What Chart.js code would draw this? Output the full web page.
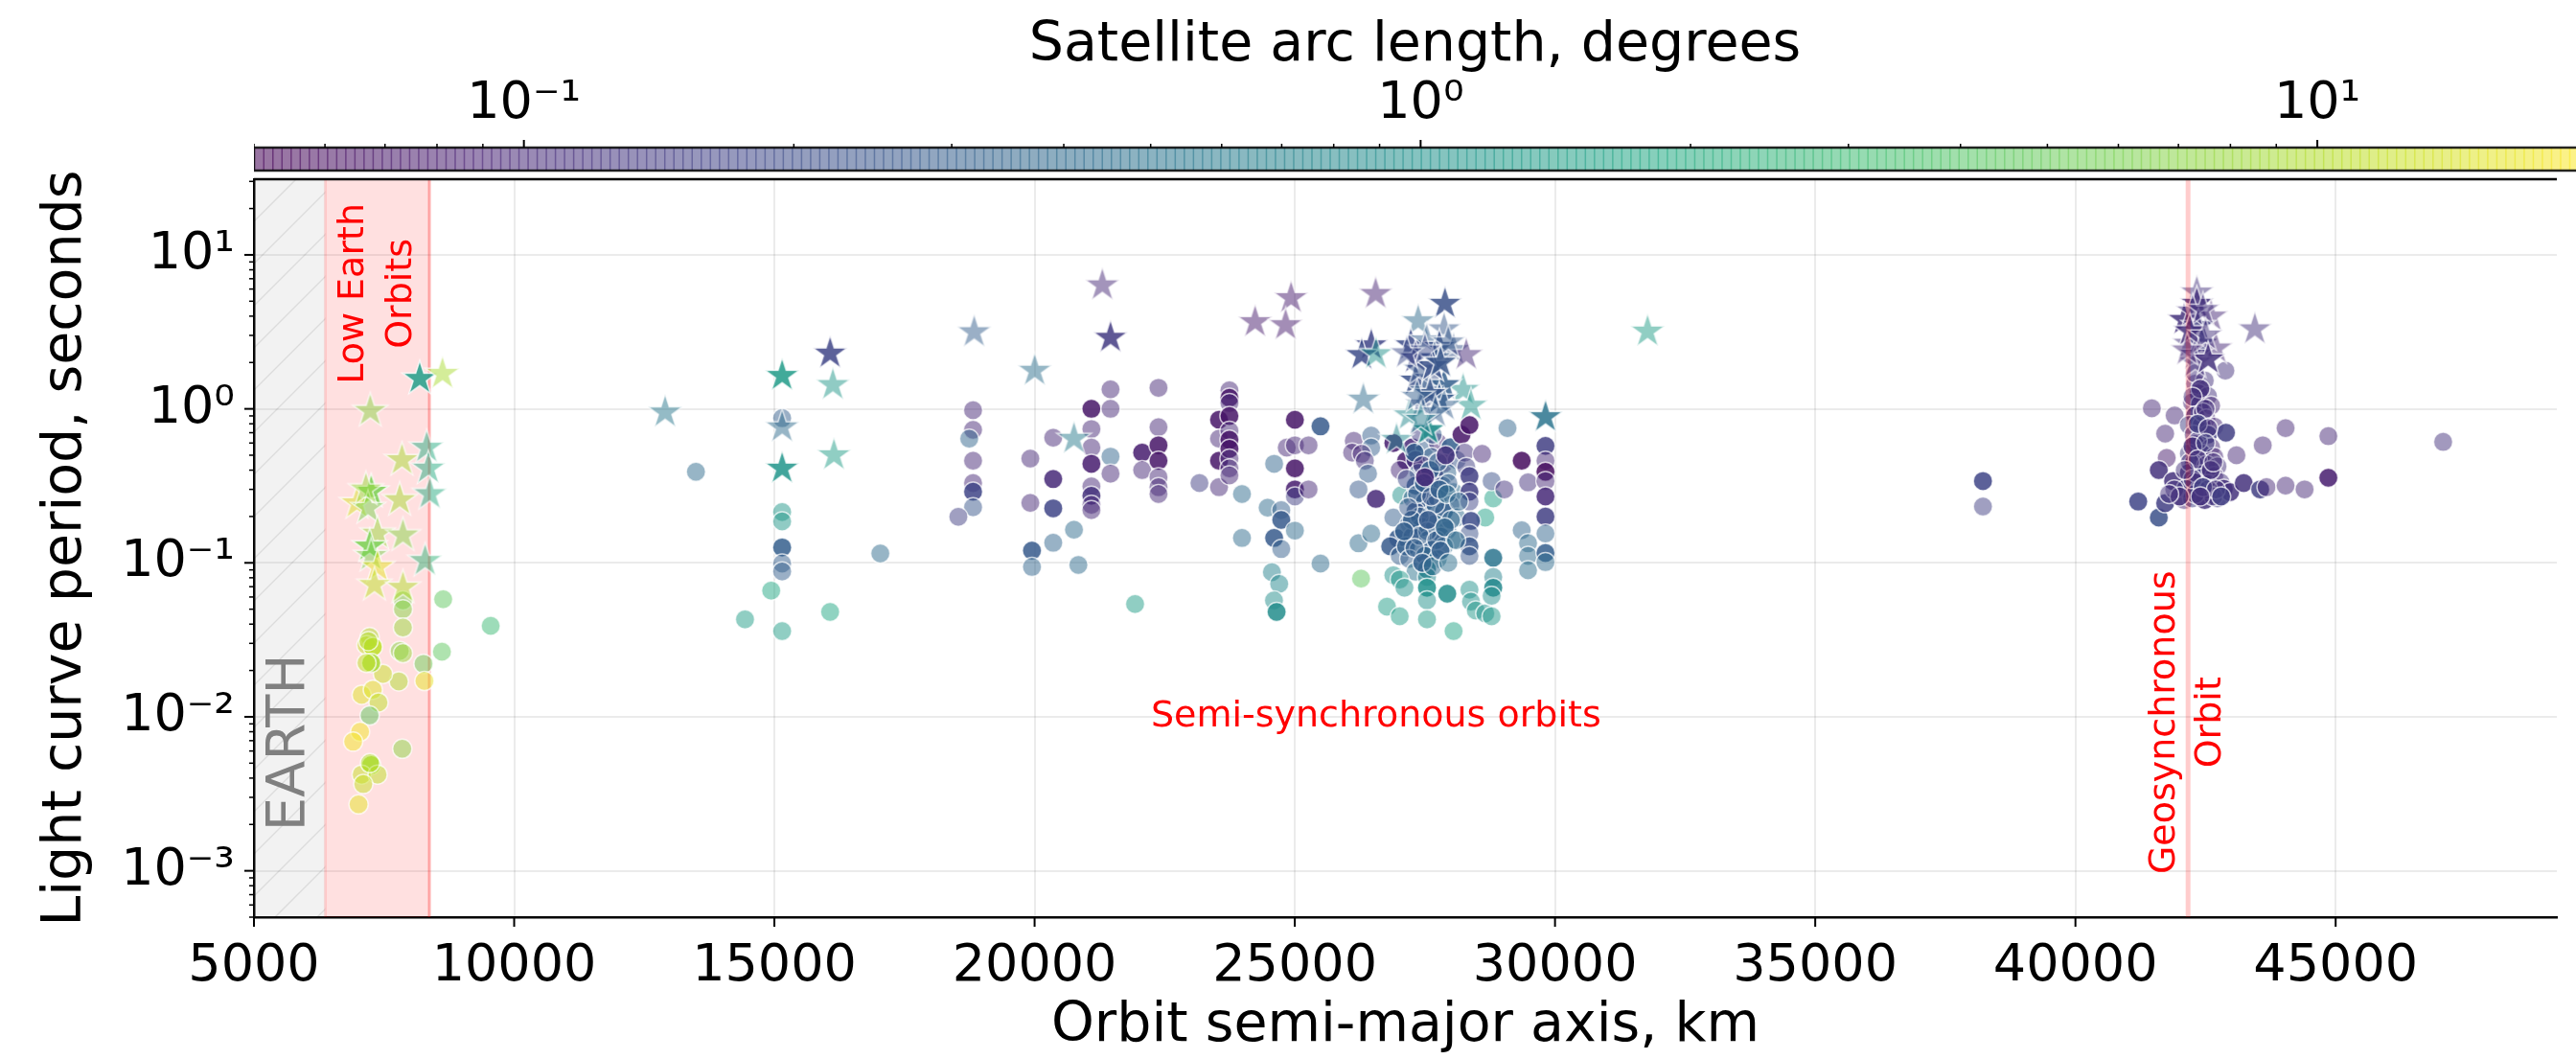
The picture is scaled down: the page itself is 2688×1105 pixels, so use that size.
<!DOCTYPE html>
<html><head><meta charset="utf-8">
<script src="https://cdn.jsdelivr.net/npm/chart.js@4.4.1/dist/chart.umd.min.js"></script>
<style>
html,body{margin:0;padding:0;background:#fff;}
#wrap{position:relative;width:2688px;height:1105px;overflow:hidden;background:#fff;}
#wrap canvas{position:absolute;left:0;top:0;}
</style></head><body>
<div id="wrap"><canvas id="cbar" width="2688" height="1105"></canvas><canvas id="main" width="2688" height="1105"></canvas></div>
<script>
// ---------- tick values / labels ----------
const axisTickValues = [5000,10000,15000,20000,25000,30000,35000,40000,45000];
const axisTickLabels = ['5000','10000','15000','20000','25000','30000','35000','40000','45000'];
const periodTickValues = [0.001,0.01,0.1,1,10];
const periodTickLabels = ['10⁻³','10⁻²','10⁻¹','10⁰','10¹'];
const arcTickValues = [0.1,1,10];
const arcTickLabels = ['10⁻¹','10⁰','10¹'];

// ---------- reference orbits (km) ----------
const earthRadiusKm = 6371, leoLimitKm = 8371, geoRadiusKm = 42164, semiSyncKm = 26560;

// ---------- circles: semi-major axis (km), period (s), arc length (deg), strong detection ----------
const leoKm = [8636,9549,8612,7863,7863,7863,7801,7863,8258,8276,7783,7479,7223,7162,7284,7253,7162,7070,7284,7393,7223,7040,6906,7850,7253,7070,7375,7101,7010,7200,7230];
const leoPeriod = [0.058,0.039,0.0265,0.057,0.050,0.038,0.0268,0.0259,0.0221,0.0171,0.017,0.019,0.0329,0.0292,0.0285,0.0224,0.0224,0.0139,0.015,0.0124,0.0102,0.0080,0.0069,0.0062,0.00487,0.00422,0.00422,0.00366,0.0027,0.031,0.005];
const leoArc = [4.5,2.9,4.5,6,6.8,8,6.8,8,5.3,16,9.7,12,9.7,12,11,9,11,15,15,11,4.5,18,18,7,9,12,11,12,16,10,10];
const leoStrong = [0,0,0,0,0,0,0,0,0,0,0,0,0,0,1,1,0,0,0,0,0,0,0,0,1,0,0,0,0,0,0];

const midKm = [13493,15149,15149,15149,15149,15149,15149,14939,14436,15149,
16071,17036,18818,18818,18744,18818,18818,18818,18818,18535,
19918,19918,19950,19950,20358,20358,20358,20358,20757,20841,
21092,21092,21092,21092,21092,21092,21092,21092,21459,21459,
21459,21459,21931,22067,22067,22381,22381,22381,22381,22381,
22381,22381,23168,23544,23544,23544,23544,23744,23744,23744,
23744,23744,23744,23744,23744,23744,23744,23985,23985,24478,
24603,24603,24740,24740,24740,24560,24700,24600,24650,24845,
25002,25002,25002,25002,25002,25264,25264,25002,25494,25494];
const midPeriod = [0.39,0.87,0.214,0.186,0.126,0.099,0.088,0.066,0.043,0.036,
0.048,0.115,0.98,0.73,0.64,0.46,0.33,0.29,0.23,0.199,
0.475,0.245,0.12,0.094,0.65,0.35,0.226,0.135,0.164,0.097,
1.0,0.74,0.56,0.44,0.314,0.273,0.238,0.22,1.34,1.0,
0.49,0.38,0.054,0.52,0.40,1.37,0.76,0.58,0.46,0.36,
0.31,0.28,0.33,0.85,0.64,0.46,0.31,1.32,1.18,1.09,
0.90,0.72,0.63,0.55,0.475,0.41,0.37,0.28,0.145,0.228,
0.44,0.145,0.22,0.19,0.123,0.087,0.073,0.057,0.048,0.56,
0.85,0.58,0.41,0.30,0.27,0.58,0.30,0.162,0.77,0.099];
const midArc = [0.4,0.3,1.2,1.2,0.3,0.3,0.3,1.8,1.4,1.4,
1.8,0.4,0.1,0.1,0.35,0.1,0.1,0.17,0.25,0.15,
0.1,0.1,0.27,0.35,0.1,0.1,0.17,0.35,0.4,0.4,
0.07,0.1,0.1,0.08,0.1,0.12,0.1,0.1,0.1,0.1,
0.35,0.1,1.4,0.08,0.1,0.1,0.1,0.07,0.07,0.1,
0.1,0.1,0.15,0.07,0.1,0.07,0.1,0.1,0.07,0.1,
0.07,0.1,0.07,0.07,0.1,0.1,0.1,0.4,0.4,0.4,
0.35,0.27,0.3,0.27,0.3,0.7,0.8,0.9,0.9,0.1,
0.07,0.1,0.07,0.08,0.15,0.1,0.1,0.4,0.27,0.4];
const midStrong = [0,0,0,0,1,0,0,0,0,0,
0,0,0,0,0,0,0,1,0,0,
0,0,1,0,0,1,1,0,0,0,
1,0,0,1,0,1,0,0,0,0,
0,0,0,1,0,0,0,1,1,0,
0,0,0,1,0,1,0,0,1,0,
1,0,1,1,0,0,0,0,0,0,
0,1,0,1,0,0,0,0,1,0,
1,0,1,1,0,0,0,0,1,0];

const semiKm = [26133,26102,26468,26468,26285,26346,26407,26224,26559,26224,26468,26273,26894,27138,27016,27046,26894,26985,26833,27016,
27259,27503,27747,27990,27320,27625,27868,28112,27381,27686,27929,27320,27564,27838,28051,27259,27503,27747,27990,27320,27625,27868,28112,27199,27442,27686,27929,27259,27564,27808,28051,27138,27381,27625,27868,27199,27503,27747,27320,
27400,27650,27150,27950,27700,27400,28000,27550,
27540,27540,27540,27540,27540,
26894,27016,27107,26772,27016,27929,28051,28356,28386,28478,28660,28782,28813,28813,28813,28782,28813,28660,
28204,28356,28265,28295,28356,28356,28356,28386,28356,28356,28356,28599,28782,29026,29087,29360,29482,29360,29482,29482,29482,
29817,29817,29817,29817,29817,29817,29817,29817,29817,
27300,27450,27600,27750,27900,27350,27480,27620,27780,27920,27250,27400,27560,27720,27880,27300,27450,27650,27800,27950,27180,27100,28150,28100,27500];
const semiPeriod = [0.62,0.52,0.67,0.56,0.51,0.46,0.38,0.30,0.26,0.134,0.155,0.079,0.60,0.46,0.40,0.275,0.197,0.144,0.128,0.111,
0.562,0.562,0.604,0.562,0.465,0.488,0.443,0.465,0.384,0.366,0.384,0.317,0.303,0.317,0.288,0.262,0.250,0.262,0.238,0.216,0.206,0.216,0.197,0.179,0.171,0.179,0.163,0.148,0.141,0.148,0.141,0.128,0.122,0.122,0.128,0.106,0.111,0.106,0.0875,
0.70,0.68,0.35,0.33,0.24,0.20,0.19,0.16,
0.091,0.081,0.069,0.057,0.043,
0.083,0.078,0.069,0.052,0.045,0.063,0.036,0.067,0.056,0.049,0.047,0.045,0.108,0.081,0.069,0.061,0.262,0.197,
0.68,0.785,0.52,0.42,0.366,0.29,0.25,0.187,0.155,0.128,0.111,0.51,0.34,0.30,0.75,0.46,0.333,0.163,0.134,0.111,0.0895,
0.575,0.46,0.39,0.34,0.27,0.20,0.155,0.116,0.101,
0.52,0.43,0.40,0.45,0.50,0.28,0.33,0.27,0.30,0.28,0.19,0.15,0.19,0.14,0.17,0.125,0.10,0.095,0.12,0.10,0.23,0.16,0.25,0.14,0.36];
const semiArc = [0.1,0.1,0.3,0.3,0.1,0.12,0.3,0.27,0.1,0.4,0.4,4.5,0.08,0.08,0.1,1.0,0.3,0.27,0.27,0.3,
0.1,0.3,0.1,0.3,0.12,0.3,0.1,0.25,0.3,0.12,0.35,0.3,0.25,0.3,0.4,0.3,0.27,0.35,0.3,0.25,0.35,0.3,0.4,0.3,0.3,0.4,0.3,0.27,0.35,0.3,0.4,0.3,0.35,0.3,0.4,0.3,0.35,0.45,0.5,
0.15,0.3,0.2,0.3,0.3,0.3,0.35,0.3,
0.6,0.8,1.0,1.0,1.3,
1.0,1.2,1.0,1.4,1.4,0.9,1.6,1.0,1.0,1.2,1.0,1.2,0.5,0.7,0.8,0.9,1.5,1.5,
0.07,0.07,0.12,0.15,0.15,0.15,0.17,0.2,0.22,0.25,0.25,0.1,0.22,0.12,0.35,0.06,0.12,0.35,0.4,0.4,0.45,
0.15,0.1,0.06,0.1,0.1,0.15,0.35,0.3,0.4,
0.3,0.12,0.3,0.3,0.12,0.3,0.3,0.25,0.3,0.4,0.3,0.3,0.27,0.3,0.35,0.3,0.3,0.4,0.3,0.45,0.27,0.3,0.35,0.4,0.1];
const semiStrong = [0,0,0,0,0,0,0,0,1,0,0,0,1,1,0,0,0,1,1,0,
1,0,0,1,1,0,0,0,0,1,0,1,0,0,0,0,1,0,0,1,0,1,0,0,1,0,0,1,0,1,0,1,0,1,0,0,1,0,0,
0,0,0,0,0,0,0,0,
1,0,1,0,0,
0,0,0,0,0,1,0,0,0,0,0,0,1,0,1,0,0,0,
1,1,0,0,1,1,0,1,0,1,0,0,0,0,0,1,0,0,0,0,0,
1,0,1,0,1,1,0,1,0,
1,0,1,0,1,0,1,0,1,0,1,0,1,0,1,0,1,0,1,0,0,1,0,0,1];

const geoKm = [38223,38223,
42881,41468,41906,41724,41754,41602,41876,41206,41602,41724,42089,
42302,42485,42363,42546,42241,42394,42607,42302,42515,42180,42424,42668,42272,42546,42302,42607,42180,42424,42668,42272,42515,42729,42180,42424,42668,42302,42546,42789,42119,42363,42607,42851,42241,42485,42729,42972,
42350,42450,42200,42550,42300,42650,
42893,43234,43094,43599,44038,44860,44860,43550,43672,44038,44403,47066,
42300,42400,42250,42500,42350,42550,42250,42500,42350,42600,42250,42450,41900,42000,42700,42800,41800,42100,42650,42400];
const geoPeriod = [0.34,0.232,
1.77,1.01,0.905,0.69,0.48,0.40,0.34,0.25,0.197,0.244,0.256,
1.46,1.53,1.26,1.21,1.10,1.07,1.05,0.906,0.865,0.785,0.785,0.767,0.681,0.681,0.59,0.562,0.512,0.512,0.488,0.443,0.433,0.423,0.384,0.375,0.366,0.333,0.325,0.333,0.303,0.295,0.288,0.303,0.262,0.256,0.262,0.288,
0.62,0.95,0.45,0.30,0.28,0.27,
0.70,0.33,0.50,0.58,0.75,0.665,0.357,0.30,0.31,0.317,0.30,0.61,
1.7,1.35,1.2,1.0,0.8,0.75,0.57,0.6,0.47,0.40,0.35,0.31,0.30,0.27,0.30,0.27,0.28,0.40,0.45,0.27];
const geoArc = [0.17,0.15,
0.12,0.1,0.1,0.1,0.08,0.12,0.12,0.17,0.22,0.15,0.1,
0.1,0.12,0.1,0.12,0.1,0.12,0.1,0.12,0.1,0.15,0.12,0.1,0.12,0.15,0.12,0.1,0.15,0.12,0.1,0.15,0.12,0.12,0.12,0.15,0.1,0.12,0.15,0.12,0.15,0.12,0.15,0.12,0.15,0.12,0.15,0.12,
0.12,0.12,0.12,0.12,0.15,0.12,
0.15,0.12,0.1,0.1,0.1,0.1,0.08,0.15,0.1,0.1,0.1,0.12,
0.12,0.12,0.12,0.12,0.15,0.12,0.12,0.15,0.12,0.12,0.12,0.15,0.12,0.12,0.12,0.15,0.12,0.12,0.12,0.12];
const geoStrong = [1,0,
0,0,0,0,0,1,1,1,1,1,0,
0,0,1,0,0,1,0,1,0,0,1,0,0,1,1,0,0,1,0,1,0,0,1,1,0,1,0,0,1,1,0,1,0,1,0,1,
0,0,0,0,1,0,
1,1,0,0,0,0,1,1,0,0,0,0,
0,1,0,0,1,0,1,0,0,1,0,1,0,1,0,1,0,0,0,1];

// ---------- stars ----------
const starKm = [8185,8623,7235,7845,8320,8350,8380,7253,6979,7192,7801,7375,7863,7223,7253,7375,8289,7315,7863,7150,
12900,15149,16071,16124,15149,15149,16145,18839,21302,21459,20002,20757,24237,24929,24824,26554,27885,
26468,26285,26559,26316,27369,27868,27229,27533,27777,28051,27320,27686,28295,28234,28386,27320,27594,27868,27503,27777,27442,27868,27199,27564,26955,29817,31779,
27400,27650,27500,27950,27600,27350,27700,27420,27150,27800,
42333,42333,42607,42089,42363,42180,42424,42698,42302,43447,
42250,42450,42200,42500,42300,42550,42150];
const starPeriod = [1.57,1.69,0.97,0.465,0.56,0.41,0.28,0.29,0.244,0.227,0.256,0.155,0.151,0.128,0.111,0.094,0.103,0.072,0.069,0.30,
0.95,1.64,2.29,1.43,0.76,0.41,0.50,3.15,6.35,2.90,1.77,0.64,3.66,5.24,3.50,5.58,4.82,
2.59,2.24,2.27,1.15,3.71,3.29,2.59,2.79,2.53,2.41,2.14,2.14,2.24,1.33,1.05,1.53,1.57,1.43,1.30,1.15,1.07,1.05,0.91,0.73,0.63,0.885,3.18,
1.8,1.9,2.4,2.7,1.25,1.2,0.95,0.85,2.3,2.0,
5.7,4.82,3.98,3.79,3.45,2.65,2.65,2.47,2.25,3.29,
4.3,4.4,3.2,3.0,2.0,2.1,2.4];
const starArc = [1.4,9.2,7,9,2.0,2.0,2.0,6,14,6,9,8,6.8,6,6,16,2.5,11,10,8,
0.55,1.3,0.17,1.2,0.4,1.1,1.4,0.3,0.1,0.14,0.45,0.6,0.08,0.08,0.08,0.09,0.22,
0.17,0.2,1.0,0.4,0.4,0.27,0.2,0.3,0.22,0.25,0.17,0.3,0.1,1.0,1.1,0.22,0.22,0.3,0.3,0.27,0.22,0.3,0.8,1.0,0.8,0.5,1.4,
0.25,0.22,0.2,0.27,0.25,0.3,0.3,0.6,0.2,0.25,
0.12,0.12,0.1,0.12,0.15,0.12,0.15,0.1,0.12,0.12,
0.12,0.12,0.12,0.12,0.12,0.12,0.1];
const starStrong = [1,0,0,0,0,0,0,1,0,0,0,0,0,1,0,0,0,0,0,0,
0,1,1,0,0,1,0,0,0,1,0,0,0,0,0,0,1,
1,1,0,0,0,0,1,0,1,0,1,0,0,0,0,1,0,1,0,1,0,0,0,1,0,1,0,
0,1,0,0,1,0,0,0,0,1,
0,1,0,1,1,0,1,0,0,0,
0,0,1,0,0,1,0];

// ---------- style ----------
const FONT = "'DejaVu Sans', 'Noto Sans', sans-serif";
Chart.defaults.font.family = FONT;
const ARC_MIN = 0.05, ARC_MAX = 20;
const VIR = [[68,1,84],[72,36,117],[65,68,135],[53,95,141],[42,120,142],[33,145,140],[34,168,132],[68,191,112],[122,209,81],[189,223,38],[253,231,37]];
function viridis(t){t=Math.max(0,Math.min(1,t));const f=t*10;const i=Math.min(9,Math.floor(f));const u=f-i;const a=VIR[i],b=VIR[i+1];return [0,1,2].map(k=>Math.round(a[k]+(b[k]-a[k])*u));}
function arcNorm(v){return (Math.log10(v)-Math.log10(ARC_MIN))/(Math.log10(ARC_MAX)-Math.log10(ARC_MIN));}
function alphaFor(s){return s ? 0.85 : 0.5;}
function rgba(c,a){return `rgba(${c[0]},${c[1]},${c[2]},${a})`;}

const STAR_R = 19, CIRCLE_R = 10;
const starCache = {};
function starImage(arc, strong){
  const key = arc+'|'+strong;
  if (starCache[key]) return starCache[key];
  const R = STAR_R, r = R*0.382, size = 2*R+6;
  const c = document.createElement('canvas'); c.width = size; c.height = size;
  const g = c.getContext('2d'); g.translate(size/2, size/2);
  g.beginPath();
  for (let i=0;i<10;i++){const rad = i%2 ? r : R; const ang = -Math.PI/2 + i*Math.PI/5; g.lineTo(rad*Math.cos(ang), rad*Math.sin(ang));}
  g.closePath();
  const a = alphaFor(strong);
  g.fillStyle = rgba(viridis(arcNorm(arc)), a); g.fill();
  g.lineWidth = 1.5; g.strokeStyle = `rgba(255,255,255,${Math.min(0.8,a+0.2)})`; g.stroke();
  starCache[key] = c; return c;
}

const circleKm = [...leoKm, ...midKm, ...semiKm, ...geoKm];
const circlePeriod = [...leoPeriod, ...midPeriod, ...semiPeriod, ...geoPeriod];
const circleArc = [...leoArc, ...midArc, ...semiArc, ...geoArc];
const circleStrong = [...leoStrong, ...midStrong, ...semiStrong, ...geoStrong];
const nC = Math.min(circleKm.length, circlePeriod.length, circleArc.length, circleStrong.length);
const nS = Math.min(starKm.length, starPeriod.length, starArc.length, starStrong.length);
const circlePts = circleKm.slice(0,nC).map((x,i)=>({x, y: circlePeriod[i]}));
const starPts = starKm.slice(0,nS).map((x,i)=>({x, y: starPeriod[i]}));

// ---------- plugins ----------
function rotatedLines(ctx, cx, cy, lines, size, color, lh){
  ctx.save(); ctx.translate(cx, cy); ctx.rotate(-Math.PI/2);
  ctx.font = `${size}px ${FONT}`; ctx.fillStyle = color; ctx.textAlign='center'; ctx.textBaseline='middle';
  const n = lines.length; lines.forEach((t,i)=>ctx.fillText(t, 0, (i-(n-1)/2)*lh));
  ctx.restore();
}

const regionsPlugin = {
  id: 'regions',
  beforeDatasetsDraw(chart){
    const {ctx, chartArea:a, scales:{x}} = chart;
    const xe = x.getPixelForValue(earthRadiusKm), xl = x.getPixelForValue(leoLimitKm);
    ctx.save();
    ctx.beginPath(); ctx.rect(a.left, a.top, a.right-a.left, a.bottom-a.top); ctx.clip();
    ctx.fillStyle = 'rgba(128,128,128,0.1)';
    ctx.fillRect(a.left, a.top, xe-a.left, a.bottom-a.top);
    ctx.save();
    ctx.beginPath(); ctx.rect(a.left, a.top, xe-a.left, a.bottom-a.top); ctx.clip();
    ctx.strokeStyle = 'rgba(0,0,0,0.09)'; ctx.lineWidth = 1.5;
    const w = xe-a.left, sp = 44;
    for (let c0 = a.top; c0 < a.bottom + w + sp; c0 += sp){
      ctx.beginPath(); ctx.moveTo(a.left, c0); ctx.lineTo(a.left + w + 10, c0 - w - 10); ctx.stroke();
    }
    ctx.restore();
    ctx.fillStyle = 'rgba(255,0,0,0.12)';
    ctx.fillRect(xe, a.top, xl-xe, a.bottom-a.top);
    ctx.strokeStyle = 'rgba(255,0,0,0.12)'; ctx.lineWidth = 3;
    ctx.beginPath(); ctx.moveTo(xe, a.top); ctx.lineTo(xe, a.bottom); ctx.stroke();
    ctx.strokeStyle = 'rgba(255,0,0,0.3)';
    ctx.beginPath(); ctx.moveTo(xl, a.top); ctx.lineTo(xl, a.bottom); ctx.stroke();
    ctx.restore();
  },
  afterDatasetsDraw(chart){
    const {ctx, chartArea:a, scales:{x,y}} = chart;
    ctx.save();
    ctx.beginPath(); ctx.rect(a.left, a.top, a.right-a.left, a.bottom-a.top); ctx.clip();
    const xg = x.getPixelForValue(geoRadiusKm);
    ctx.strokeStyle = 'rgba(255,0,0,0.2)'; ctx.lineWidth = 5;
    ctx.beginPath(); ctx.moveTo(xg, a.top); ctx.lineTo(xg, a.bottom); ctx.stroke();
    rotatedLines(ctx, x.getPixelForValue((earthRadiusKm+5000)/2), y.getPixelForValue(0.0068), ['EARTH'], 56, '#808080', 56);
    rotatedLines(ctx, x.getPixelForValue((earthRadiusKm+leoLimitKm)/2), y.getPixelForValue(5.6), ['Low Earth','Orbits'], 38, '#ff0000', 50);
    rotatedLines(ctx, xg, y.getPixelForValue(0.0092), ['Geosynchronous','Orbit'], 38, '#ff0000', 48);
    ctx.font = `38px ${FONT}`; ctx.fillStyle = '#ff0000'; ctx.textAlign = 'center'; ctx.textBaseline = 'middle';
    ctx.fillText('Semi-synchronous orbits', x.getPixelForValue(semiSyncKm), y.getPixelForValue(0.01));
    ctx.restore();
  },
  afterDraw(chart){
    const {ctx, chartArea:a, scales:{x,y}} = chart;
    ctx.save(); ctx.strokeStyle = '#000';
    ctx.lineWidth = 2;
    axisTickValues.forEach(v=>{const px = x.getPixelForValue(v); ctx.beginPath(); ctx.moveTo(px, a.bottom); ctx.lineTo(px, a.bottom+10); ctx.stroke();});
    for (let e=-4; e<=1; e++) for (let m=1; m<=9; m++){
      const v = m*Math.pow(10,e); if (v < y.min || v > y.max) continue;
      const py = y.getPixelForValue(v);
      ctx.lineWidth = m===1 ? 2 : 1.5;
      ctx.beginPath(); ctx.moveTo(a.left, py); ctx.lineTo(a.left-(m===1?10:5), py); ctx.stroke();
    }
    ctx.lineWidth = 2.5;
    ctx.beginPath(); ctx.moveTo(a.left, a.top); ctx.lineTo(a.right, a.top); ctx.stroke();
    ctx.restore();
  }
};

const colorbarPlugin = {
  id: 'colorbar',
  afterDraw(chart){
    const {ctx, chartArea:a, scales:{x}} = chart;
    ctx.save();
    ctx.beginPath(); ctx.rect(a.left, a.top-20, a.right-a.left, a.bottom-a.top+40); ctx.clip();
    const N = 256, L0 = Math.log10(ARC_MIN), L1 = Math.log10(ARC_MAX);
    for (let i=0;i<N;i++){
      const v0 = Math.pow(10, L0 + (L1-L0)*i/N), v1 = Math.pow(10, L0 + (L1-L0)*(i+1)/N);
      const x0 = x.getPixelForValue(v0), x1 = x.getPixelForValue(v1);
      ctx.fillStyle = rgba(viridis((i+0.5)/N), 0.55);
      ctx.fillRect(x0, a.top, x1-x0+1.5, a.bottom-a.top);
    }
    ctx.strokeStyle = 'rgba(0,0,0,0.85)'; ctx.lineWidth = 2.5;
    ctx.beginPath();
    ctx.moveTo(a.right+5, a.top); ctx.lineTo(a.left, a.top); ctx.lineTo(a.left, a.bottom); ctx.lineTo(a.right+5, a.bottom);
    ctx.stroke();
    ctx.strokeStyle = '#000';
    for (let e=-2; e<=1; e++) for (let m=1; m<=9; m++){
      const v = m*Math.pow(10,e); if (v < x.min - 1e-12 || v > x.max) continue;
      const px = x.getPixelForValue(v);
      ctx.lineWidth = m===1 ? 2 : 1.5;
      ctx.beginPath(); ctx.moveTo(px, a.top); ctx.lineTo(px, a.top-(m===1?8:4)); ctx.stroke();
    }
    ctx.restore();
  }
};

const LEFT = 265, TOP = 187, BOTTOM = 957, CB_TOP = 154, CB_BOTTOM = 178, H = 1105;
const edgeKm = 49250;
const arcAtEdge = 19.43;

// ---------- colorbar chart ----------
new Chart(document.getElementById('cbar'), {
  type: 'scatter',
  data: {datasets: []},
  options: {
    responsive: false, animation: false, events: [],
    plugins: {legend:{display:false}, tooltip:{enabled:false}},
    layout: {padding: {left: LEFT, right: 0, top: 0, bottom: H-CB_BOTTOM}},
    scales: {
      x: {
        type: 'logarithmic', position: 'top', min: ARC_MIN, max: arcAtEdge,
        afterBuildTicks: s => { s.ticks = arcTickValues.map(v => ({value: v, major: true})); },
        grid: {display: false, drawTicks: false},
        border: {display: false},
        ticks: {autoSkip: false, maxRotation: 0, color: '#000', font: {size: 54}, padding: 13,
          callback: (v, i) => arcTickLabels[i]},
        title: {display: true, text: 'Satellite arc length, degrees', color: '#000', font: {size: 57}, padding: {top: 14, bottom: 0}},
        afterFit: s => { s.height = CB_TOP; }
      },
      y: {display: false}
    }
  },
  plugins: [colorbarPlugin]
});

// ---------- main chart ----------
new Chart(document.getElementById('main'), {
  type: 'scatter',
  data: {datasets: [
    {label: 'stars', data: starPts, order: 0,
     pointStyle: c => c.dataIndex === undefined ? 'star' : starImage(starArc[c.dataIndex], starStrong[c.dataIndex]),
     pointRadius: STAR_R},
    {label: 'circles', data: circlePts, order: 1, pointStyle: 'circle', pointRadius: CIRCLE_R,
     pointBackgroundColor: c => c.dataIndex === undefined ? '#000' : rgba(viridis(arcNorm(circleArc[c.dataIndex])), alphaFor(circleStrong[c.dataIndex])),
     pointBorderColor: 'rgba(255,255,255,0.7)', pointBorderWidth: 1.5}
  ]},
  options: {
    responsive: false, animation: false, events: [],
    plugins: {legend:{display:false}, tooltip:{enabled:false}},
    layout: {padding: {left: 0, right: 0, top: TOP, bottom: 0}},
    scales: {
      x: {
        type: 'linear', min: 5000, max: edgeKm,
        afterBuildTicks: s => { s.ticks = axisTickValues.map(v => ({value: v})); },
        grid: {color: 'rgba(0,0,0,0.08)', lineWidth: 2, drawTicks: false},
        border: {display: true, color: '#000', width: 2.5},
        ticks: {autoSkip: false, maxRotation: 0, color: '#000', font: {size: 54}, padding: 20,
          callback: (v, i) => axisTickLabels[i]},
        title: {display: true, text: 'Orbit semi-major axis, km', color: '#000', font: {size: 57}, padding: {top: 0, bottom: 0}},
        afterFit: s => { s.height = H - BOTTOM; }
      },
      y: {
        type: 'logarithmic', min: 5e-4, max: 31,
        afterBuildTicks: s => { s.ticks = periodTickValues.map(v => ({value: v, major: true})); },
        grid: {color: 'rgba(0,0,0,0.08)', lineWidth: 2, drawTicks: false},
        border: {display: true, color: '#000', width: 2.5},
        ticks: {autoSkip: false, color: '#000', font: {size: 54}, padding: 20,
          callback: (v, i) => periodTickLabels[i]},
        title: {display: true, text: 'Light curve period, seconds', color: '#000', font: {size: 57}, padding: {top: 35, bottom: 0}},
        afterFit: s => { s.width = LEFT; }
      }
    }
  },
  plugins: [regionsPlugin]
});
</script></body></html>
